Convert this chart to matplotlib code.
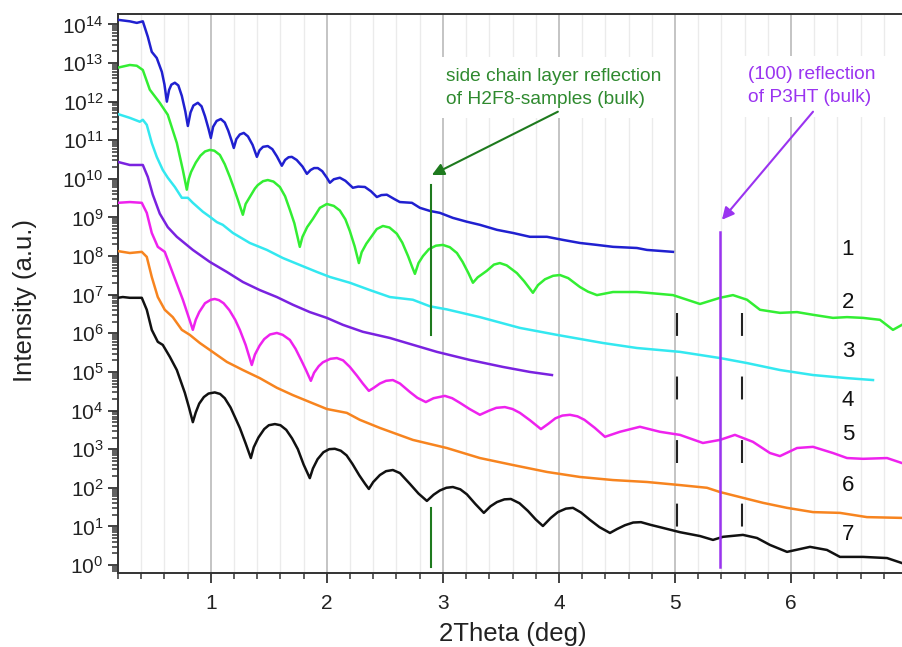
import numpy as np
import matplotlib
matplotlib.use("Agg")
import matplotlib.pyplot as plt
from matplotlib.ticker import MultipleLocator, LogLocator, NullFormatter

plt.rcParams['font.family'] = ['Liberation Sans', 'DejaVu Sans']
plt.rcParams['mathtext.default'] = 'regular'

# X-ray reflectivity curves: 2Theta (deg) and log10 of intensity (a.u.)
x1 = [0.198, 0.302, 0.362, 0.414, 0.457, 0.491, 0.534, 0.578, 0.60, 0.621, 0.64, 0.66, 0.69, 0.72, 0.75,
      0.78, 0.802, 0.825, 0.85, 0.888, 0.92, 0.95, 0.98, 1.0, 1.02, 1.05, 1.086, 1.12, 1.15, 1.18, 1.198,
      1.22, 1.25, 1.284, 1.32, 1.36, 1.397, 1.42, 1.45, 1.491, 1.53, 1.57, 1.612, 1.64, 1.67, 1.698, 1.74,
      1.79, 1.828, 1.86, 1.89, 1.922, 1.96, 2.0, 2.026, 2.06, 2.112, 2.16, 2.224, 2.27, 2.328, 2.38,
      2.431, 2.47, 2.517, 2.58, 2.629, 2.733, 2.802, 2.888, 2.974, 3.086, 3.207, 3.319, 3.466, 3.603,
      3.750, 3.897, 4.034, 4.181, 4.328, 4.466, 4.672, 4.759, 4.983]
lg1 = [14.12, 14.08, 14.04, 14.08, 13.68, 13.29, 13.13, 12.77, 12.45, 12.00, 12.30, 12.44, 12.49, 12.42, 12.15,
       11.75, 11.37, 11.72, 11.90, 11.97, 11.88, 11.62, 11.30, 11.06, 11.35, 11.50, 11.55, 11.46, 11.25, 10.98, 10.80,
       11.03, 11.15, 11.19, 11.10, 10.88, 10.57, 10.74, 10.83, 10.85, 10.77, 10.58, 10.34, 10.49, 10.56, 10.57, 10.49,
       10.32, 10.13, 10.23, 10.28, 10.28, 10.20, 10.03, 9.90, 9.99, 10.03, 9.95, 9.77, 9.80, 9.79, 9.68,
       9.53, 9.58, 9.59, 9.48, 9.40, 9.38, 9.25, 9.17, 9.12, 8.99, 8.89, 8.81, 8.68, 8.60,
       8.50, 8.50, 8.42, 8.34, 8.29, 8.24, 8.21, 8.16, 8.11]

x2 = [0.198, 0.302, 0.362, 0.414, 0.474, 0.560, 0.629, 0.707, 0.759, 0.793, 0.81, 0.83, 0.87, 0.91, 0.95,
      0.991, 1.03, 1.078, 1.12, 1.164, 1.20, 1.233, 1.276, 1.30, 1.336, 1.38, 1.405, 1.45, 1.491, 1.54,
      1.595, 1.64, 1.681, 1.72, 1.767, 1.79, 1.83, 1.879, 1.94, 2.0, 2.06, 2.112, 2.16, 2.198, 2.24,
      2.276, 2.30, 2.34, 2.371, 2.43, 2.483, 2.54, 2.603, 2.65, 2.70, 2.735, 2.759, 2.79, 2.828, 2.88,
      2.94, 3.0, 3.06, 3.121, 3.17, 3.22, 3.259, 3.30, 3.379, 3.44, 3.491, 3.55, 3.638, 3.70, 3.776,
      3.82, 3.88, 3.95, 4.009, 4.08, 4.181, 4.25, 4.328, 4.466, 4.672, 4.759, 4.983, 5.216, 5.388,
      5.5, 5.621, 5.733, 5.905, 6.052, 6.190, 6.362, 6.483, 6.621, 6.767, 6.879, 6.957]
lg2 = [12.88, 12.95, 12.93, 12.82, 12.31, 11.97, 11.66, 10.93, 10.23, 9.72, 10.00, 10.18, 10.42, 10.60, 10.71,
       10.75, 10.73, 10.62, 10.38, 10.05, 9.75, 9.46, 9.07, 9.35, 9.53, 9.75, 9.84, 9.94, 9.97, 9.93,
       9.79, 9.55, 9.20, 8.85, 8.24, 8.50, 8.75, 8.96, 9.25, 9.35, 9.30, 9.18, 8.95, 8.65, 8.25,
       7.82, 8.10, 8.32, 8.45, 8.70, 8.78, 8.74, 8.58, 8.35, 8.00, 7.72, 7.54, 7.82, 8.00, 8.18,
       8.27, 8.29, 8.23, 8.08, 7.85, 7.56, 7.31, 7.45, 7.62, 7.78, 7.82, 7.76, 7.56, 7.35, 7.05,
       7.25, 7.40, 7.49, 7.51, 7.43, 7.20, 7.08, 6.99, 7.07, 7.07, 7.05, 6.99, 6.76, 6.92,
       6.99, 6.87, 6.61, 6.53, 6.55, 6.48, 6.40, 6.42, 6.40, 6.35, 6.09, 6.22]

x3 = [0.198, 0.302, 0.388, 0.414, 0.448, 0.491, 0.534, 0.586, 0.629, 0.690, 0.750, 0.802, 0.845, 0.931,
      0.991, 1.052, 1.103, 1.190, 1.336, 1.483, 1.621, 1.767, 1.914, 2.026, 2.198, 2.371, 2.543, 2.741,
      2.888, 3.034, 3.319, 3.664, 3.983, 4.379, 4.672, 5.043, 5.388, 5.621, 5.905, 6.190, 6.483, 6.707]
lg3 = [11.68, 11.58, 11.48, 11.53, 11.40, 10.93, 10.57, 10.23, 10.03, 9.79, 9.51, 9.51, 9.38, 9.15,
       9.02, 8.88, 8.81, 8.60, 8.34, 8.16, 7.95, 7.77, 7.59, 7.46, 7.31, 7.12, 6.94, 6.87,
       6.70, 6.62, 6.42, 6.14, 5.96, 5.75, 5.62, 5.52, 5.36, 5.23, 5.05, 4.92, 4.84, 4.79]

x4 = [0.198, 0.302, 0.414, 0.457, 0.500, 0.56, 0.629, 0.707, 0.845, 0.991, 1.138, 1.276, 1.422, 1.569,
      1.707, 1.853, 2.0, 2.138, 2.310, 2.543, 2.655, 2.948, 3.233, 3.517, 3.75, 3.94]
lg4 = [10.44, 10.36, 10.36, 10.05, 9.59, 9.10, 8.75, 8.50, 8.16, 7.85, 7.59, 7.33, 7.12, 6.94,
       6.74, 6.55, 6.40, 6.22, 6.04, 5.88, 5.78, 5.52, 5.31, 5.13, 5.00, 4.92]

x5 = [0.198, 0.302, 0.405, 0.448, 0.491, 0.543, 0.603, 0.672, 0.759, 0.80, 0.845, 0.87, 0.90, 0.95, 1.0,
      1.034, 1.07, 1.11, 1.16, 1.21, 1.25, 1.30, 1.353, 1.38, 1.42, 1.46, 1.51, 1.569, 1.62, 1.681,
      1.73, 1.78, 1.82, 1.862, 1.89, 1.93, 1.966, 2.03, 2.086, 2.14, 2.198, 2.26, 2.31, 2.362, 2.40,
      2.457, 2.51, 2.569, 2.63, 2.716, 2.78, 2.853, 2.92, 3.017, 3.08, 3.147, 3.23, 3.319, 3.40, 3.46,
      3.534, 3.60, 3.664, 3.75, 3.845, 3.91, 3.97, 4.03, 4.095, 4.16, 4.22, 4.31, 4.397, 4.526, 4.698,
      4.871, 5.043, 5.241, 5.388, 5.517, 5.672, 5.819, 5.905, 6.052, 6.190, 6.362, 6.483, 6.621,
      6.828, 6.957]
lg5 = [9.38, 9.40, 9.38, 9.12, 8.60, 8.24, 8.11, 7.56, 6.87, 6.50, 6.09, 6.35, 6.55, 6.78, 6.87,
       6.89, 6.86, 6.78, 6.60, 6.35, 6.09, 5.70, 5.18, 5.45, 5.68, 5.85, 5.97, 6.01, 5.96, 5.83,
       5.60, 5.30, 5.05, 4.77, 4.98, 5.15, 5.25, 5.34, 5.36, 5.30, 5.13, 4.90, 4.70, 4.51, 4.58,
       4.70, 4.77, 4.79, 4.70, 4.48, 4.33, 4.22, 4.32, 4.38, 4.32, 4.20, 4.04, 3.89, 4.00, 4.07,
       4.09, 4.04, 3.94, 3.75, 3.52, 3.66, 3.80, 3.87, 3.89, 3.85, 3.76, 3.55, 3.32, 3.45, 3.58,
       3.45, 3.37, 3.16, 3.24, 3.37, 3.19, 2.90, 2.82, 3.03, 3.06, 2.90, 2.77, 2.75,
       2.77, 2.64]

x6 = [0.198, 0.302, 0.405, 0.448, 0.491, 0.543, 0.603, 0.672, 0.750, 0.819, 0.905, 0.991, 1.138, 1.276,
      1.422, 1.569, 1.707, 1.853, 2.0, 2.172, 2.284, 2.457, 2.741, 3.034, 3.319, 3.603, 3.897, 4.181,
      4.466, 4.759, 5.043, 5.276, 5.388, 5.560, 5.759, 5.966, 6.190, 6.422, 6.655, 6.957]
lg6 = [8.13, 8.08, 8.11, 7.98, 7.46, 6.94, 6.61, 6.42, 6.09, 5.96, 5.75, 5.57, 5.26, 5.05,
       4.84, 4.59, 4.40, 4.22, 4.04, 3.94, 3.76, 3.55, 3.24, 3.03, 2.77, 2.59, 2.41, 2.28,
       2.20, 2.15, 2.07, 2.00, 1.89, 1.76, 1.61, 1.48, 1.37, 1.35, 1.24, 1.22]

x7 = [0.198, 0.241, 0.302, 0.405, 0.448, 0.491, 0.543, 0.586, 0.647, 0.707, 0.776, 0.81, 0.845, 0.87,
      0.90, 0.94, 0.98, 1.034, 1.08, 1.12, 1.17, 1.22, 1.25, 1.30, 1.345, 1.37, 1.41, 1.46, 1.50,
      1.552, 1.60, 1.65, 1.70, 1.75, 1.80, 1.853, 1.88, 1.92, 1.97, 2.02, 2.069, 2.12, 2.17, 2.22,
      2.28, 2.33, 2.362, 2.40, 2.457, 2.51, 2.569, 2.63, 2.716, 2.79, 2.862, 2.92, 2.974, 3.03, 3.086,
      3.15, 3.207, 3.28, 3.353, 3.41, 3.466, 3.53, 3.586, 3.66, 3.733, 3.80, 3.862, 3.93, 3.991, 4.06,
      4.121, 4.19, 4.267, 4.35, 4.440, 4.50, 4.569, 4.64, 4.707, 4.79, 4.871, 5.043, 5.216, 5.328,
      5.414, 5.586, 5.707, 5.819, 5.966, 6.164, 6.310, 6.422, 6.621, 6.828, 6.957]
lg7 = [6.92, 6.94, 6.92, 6.92, 6.61, 6.09, 5.78, 5.70, 5.39, 5.05, 4.46, 4.10, 3.70, 3.95,
       4.18, 4.35, 4.44, 4.47, 4.43, 4.32, 4.08, 3.75, 3.55, 3.15, 2.77, 3.05, 3.30, 3.52, 3.62,
       3.65, 3.62, 3.50, 3.28, 3.00, 2.60, 2.25, 2.50, 2.74, 2.92, 3.00, 3.01, 2.96, 2.84, 2.62,
       2.32, 2.10, 1.97, 2.15, 2.33, 2.43, 2.46, 2.38, 2.10, 1.85, 1.66, 1.82, 1.93, 2.00, 2.02,
       1.96, 1.83, 1.58, 1.35, 1.52, 1.63, 1.70, 1.71, 1.60, 1.40, 1.18, 1.01, 1.22, 1.37, 1.46,
       1.48, 1.36, 1.17, 0.98, 0.83, 0.93, 1.03, 1.10, 1.11, 1.04, 0.98, 0.85, 0.75, 0.65,
       0.73, 0.78, 0.70, 0.52, 0.34, 0.47, 0.39, 0.21, 0.21, 0.18, 0.05]

curve_x = [x1, x2, x3, x4, x5, x6, x7]
curve_lg = [lg1, lg2, lg3, lg4, lg5, lg6, lg7]
curve_colors = ['#2020d0', '#33ee33', '#33e8f0', '#7a22e0', '#ee22ee', '#f7841f', '#111111']
curve_labels = ['1', '2', '3', '4', '5', '6', '7']
label_x = 6.49
label_lg = [8.16, 6.81, 5.52, 4.27, 3.37, 2.07, 0.78]

# reflection markers
side_chain_x = 2.9
side_chain_segments = [(9.84, 5.96), (1.48, -0.05)]
p3ht_x = 5.39
p3ht_span = (8.63, -0.05)
dashed_x = [5.02, 5.58]
dashed_span = (6.53, 0.98)

fig = plt.figure(figsize=(9.02, 6.47), dpi=100)
ax = fig.add_axes([118 / 902, (647 - 573) / 647, 789 / 902, 559 / 647])

for xs, ls, c in zip(curve_x, curve_lg, curve_colors):
    ax.plot(xs, 10 ** np.asarray(ls), color=c, lw=1.8, solid_joinstyle='round', zorder=3)

for xl, ll in zip(curve_labels, label_lg):
    ax.text(label_x, 10 ** ll, xl, fontsize=16, color='#111111', ha='center', va='center', zorder=4)

green_dark = '#1e7a1e'
purple = '#9a33f0'
for top, bot in side_chain_segments:
    ax.plot([side_chain_x, side_chain_x], [10 ** top, 10 ** bot], color=green_dark, lw=1.5, zorder=4)
ax.plot([p3ht_x, p3ht_x], [10 ** p3ht_span[0], 10 ** p3ht_span[1]], color=purple, lw=1.8, zorder=4)
for dx in dashed_x:
    ax.plot([dx, dx], [10 ** dashed_span[0], 10 ** dashed_span[1]], color='#222222', lw=1.5,
            linestyle=(0, (11, 19.5)), zorder=4)

box = dict(boxstyle='square,pad=0.55', fc='white', ec='none')
ax.text(3.03, 10 ** 12.36, 'side chain layer reflection\nof H2F8-samples (bulk)', fontsize=13.8,
        color='#2f8a2f', ha='left', va='center', linespacing=1.45, bbox=box, zorder=5)
ax.text(5.63, 10 ** 12.40, '(100) reflection\nof P3HT (bulk)', fontsize=13.8,
        color=purple, ha='left', va='center', linespacing=1.45, bbox=box, zorder=5)

ax.annotate('', xy=(2.905, 10 ** 10.10), xytext=(3.991, 10 ** 11.74),
            arrowprops=dict(arrowstyle='-|>', color=green_dark, lw=1.5, mutation_scale=18,
                            shrinkA=0, shrinkB=0), zorder=6)
ax.annotate('', xy=(5.405, 10 ** 8.94), xytext=(6.190, 10 ** 11.74),
            arrowprops=dict(arrowstyle='-|>', color=purple, lw=1.5, mutation_scale=18,
                            shrinkA=0, shrinkB=0), zorder=6)

ax.set_yscale('log')
ax.set_xlim(0.2, 7.0)
ax.set_ylim(10 ** -0.207, 10 ** 14.27)

ax.xaxis.set_major_locator(MultipleLocator(1))
ax.xaxis.set_minor_locator(MultipleLocator(0.2))
ax.yaxis.set_major_locator(LogLocator(base=10, numticks=30))
ax.yaxis.set_minor_locator(LogLocator(base=10, subs=np.arange(2, 10), numticks=30))
ax.yaxis.set_minor_formatter(NullFormatter())

ax.grid(True, axis='x', which='major', color='#c4c4c4', lw=1.4, zorder=0)
ax.grid(True, axis='x', which='minor', color='#ebebeb', lw=1.0, zorder=0)
ax.set_axisbelow(True)

ax.tick_params(axis='both', which='major', direction='out', length=7, width=1.3,
               labelsize=15, labelcolor='#222222', color='#333333')
ax.tick_params(axis='both', which='minor', direction='out', length=4, width=1.1, color='#333333')
ax.tick_params(axis='x', pad=8)
for s in ax.spines.values():
    s.set_color('#333333')
    s.set_linewidth(1.4)

ax.set_xlabel('2Theta (deg)', fontsize=18.5, color='#222222')
ax.set_ylabel('Intensity (a.u.)', fontsize=18.5, color='#222222')
ax.xaxis.set_label_coords(0.5, -0.087)
ax.yaxis.set_label_coords(-0.103, 0.487)

fig.savefig('out.png', dpi=100)
